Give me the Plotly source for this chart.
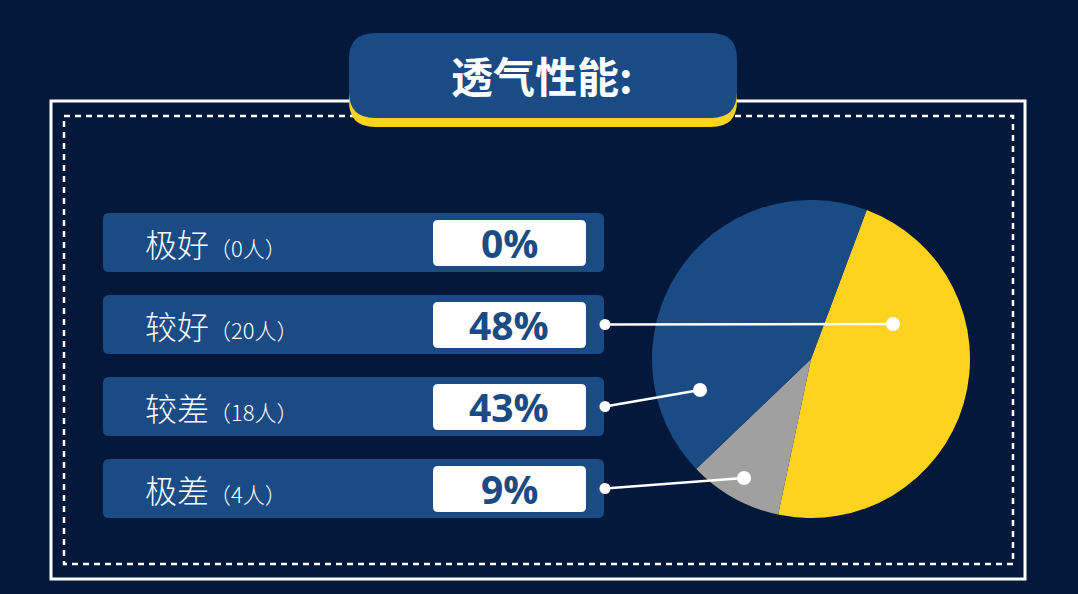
import plotly.graph_objects as go

W, H = 1078, 594
BG = "#03183b"
BLUE = "#1a4b84"
YELLOW = "#fdd31f"
GRAY = "#a0a0a0"
WHITE = "#ffffff"

# 数据
title = "透气性能:"
categories = ["极好", "较好", "较差", "极差"]
counts = [0, 20, 18, 4]
pct_labels = ["0%", "48%", "43%", "9%"]
pie_order = ["较好", "极差", "较差", "极好"]
pie_colors = [YELLOW, GRAY, BLUE, BLUE]

# 饼图位置
pie_cx, pie_cy, pie_r = 811, 359, 159
pie_rotation = 20.5
# 饼图上的连接点 (相对圆心)
pie_dots = {"较好": (82, -35), "较差": (-111, 31), "极差": (-67, 119)}


def rrect(x0, y0, x1, y1, r):
    return (f"M {x0+r},{y0} L {x1-r},{y0} Q {x1},{y0} {x1},{y0+r} "
            f"L {x1},{y1-r} Q {x1},{y1} {x1-r},{y1} L {x0+r},{y1} "
            f"Q {x0},{y1} {x0},{y1-r} L {x0},{y0+r} Q {x0},{y0} {x0+r},{y0} Z")


def circle(cx, cy, r):
    return dict(type="circle", xref="x", yref="y", x0=cx-r, x1=cx+r, y0=cy-r, y1=cy+r,
                fillcolor=WHITE, line_width=0)


value_map = dict(zip(categories, counts))
pie = go.Pie(
    labels=pie_order,
    values=[value_map[c] for c in pie_order],
    marker=dict(colors=pie_colors, line=dict(width=0)),
    sort=False,
    direction="clockwise",
    rotation=pie_rotation,
    textinfo="none",
    hoverinfo="skip",
    showlegend=False,
    domain=dict(x=[(pie_cx-pie_r)/W, (pie_cx+pie_r)/W],
                y=[1-(pie_cy+pie_r)/H, 1-(pie_cy-pie_r)/H]),
)

shapes = []
annotations = []

# 外框
shapes.append(dict(type="rect", xref="x", yref="y", x0=51, x1=1025, y0=101, y1=579,
                   line=dict(color=WHITE, width=3)))
shapes.append(dict(type="rect", xref="x", yref="y", x0=64, x1=1013, y0=116, y1=564,
                   line=dict(color=WHITE, width=2.5, dash="6px,5px")))

# 标题框
shapes.append(dict(type="path", path=rrect(349, 42, 737, 127, 26), fillcolor=YELLOW, line_width=0))
shapes.append(dict(type="path", path=rrect(349, 33, 737, 118, 26), fillcolor=BLUE, line_width=0))
annotations.append(dict(x=542, y=74, xref="x", yref="y", text="<b>" + title + "</b>", showarrow=False,
                        font=dict(family="Noto Sans CJK SC", size=42, color=WHITE, weight=900)))

# 各行
row_top, row_h, row_step = 213, 59, 82
for i, (cat, n, p) in enumerate(zip(categories, counts, pct_labels)):
    y0 = row_top + i * row_step
    y1 = y0 + row_h
    yc = (y0 + y1) / 2
    shapes.append(dict(type="path", path=rrect(103, y0, 604, y1, 6), fillcolor=BLUE, line_width=0))
    shapes.append(dict(type="path", path=rrect(433, y0 + 7, 586, y1 - 6, 5), fillcolor=WHITE, line_width=0))
    annotations.append(dict(x=143, y=yc, xref="x", yref="y", xanchor="left", yanchor="middle",
                            text=f"{cat}<span style='font-size:22px'>（{n}人）</span>", showarrow=False,
                            font=dict(family="Noto Sans CJK SC", size=32, color=WHITE, weight=300)))
    annotations.append(dict(x=509, y=yc, xref="x", yref="y", xanchor="center", yanchor="middle",
                            text=f"<b>{p}</b>", showarrow=False,
                            font=dict(family="Open Sans", size=39, color=BLUE)))
    if cat in pie_dots:
        dx, dy = pie_dots[cat]
        px, py = pie_cx + dx, pie_cy + dy
        shapes.append(dict(type="line", xref="x", yref="y", x0=605, y0=yc, x1=px, y1=py,
                           line=dict(color=WHITE, width=2.5)))
        shapes.append(circle(605, yc, 5.5))
        shapes.append(circle(px, py, 7))

fig = go.Figure(data=[pie])
fig.update_layout(
    width=W, height=H,
    margin=dict(l=0, r=0, t=0, b=0),
    paper_bgcolor=BG, plot_bgcolor=BG,
    xaxis=dict(range=[0, W], visible=False, fixedrange=True),
    yaxis=dict(range=[H, 0], visible=False, fixedrange=True),
    shapes=shapes,
    annotations=annotations,
)
fig.write_html("out.html", config={"displayModeBar": False},
               post_script="document.body.style.margin='0';")
